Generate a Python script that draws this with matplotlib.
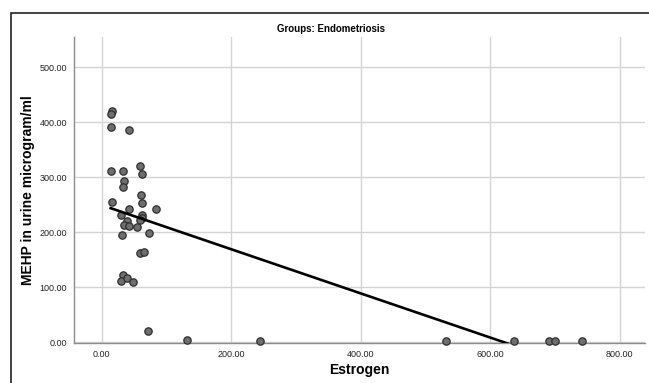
import numpy as np
import matplotlib
matplotlib.use("Agg")
import matplotlib.pyplot as plt
from matplotlib.patches import Rectangle

# Data
estrogen = [16.4, 13.9, 14.4, 42.7, 59.0, 14.4, 32.4, 62.8, 35.0, 32.4,
            16.4, 60.2, 62.8, 83.9, 42.7, 29.3, 62.8, 61.8, 38.6, 59.0,
            35.0, 42.7, 55.0, 72.6, 31.4, 59.0, 65.8, 32.4, 29.8, 38.6,
            47.9, 71.0, 131.0, 244.0, 531.0, 636.0, 691.0, 700.0, 742.0]
mehp = [421.0, 415.0, 391.5, 386.0, 321.0, 311.5, 311.5, 305.4, 294.0, 282.0,
        254.5, 267.0, 252.7, 243.0, 243.0, 231.5, 231.5, 226.6, 220.5, 222.4,
        212.7, 212.0, 209.6, 199.3, 194.5, 161.8, 163.6, 121.8, 111.5, 117.5,
        109.0, 21.0, 4.0, 2.0, 1.5, 3.0, 2.0, 2.0, 1.5]
x_ticks = [0, 200, 400, 600, 800]
y_ticks = [0, 100, 200, 300, 400, 500]
title = "Groups: Endometriosis"
x_label = "Estrogen"
y_label = "MEHP in urine microgram/ml"

plt.rcParams['font.family'] = ['Liberation Sans', 'DejaVu Sans']

W, H = 649, 383
fig = plt.figure(figsize=(W / 100, H / 100), dpi=100)
fig.patch.set_facecolor('white')

# outer frame
fig.patches.append(Rectangle((11 / W, -0.05), 1.2, (H - 13) / H + 0.05,
                             transform=fig.transFigure, fill=False,
                             edgecolor='#222222', linewidth=1.2, clip_on=False))

left, right, top, bottom = 74, 645, 37, 343
ax = fig.add_axes([left / W, 1 - bottom / H, (right - left) / W, (bottom - top) / H])
ax.set_xlim(-42.8, 839)
ax.set_ylim(-1.3, 555)

ax.set_xticks(x_ticks)
ax.set_yticks(y_ticks)
ax.set_xticklabels([f"{v:.2f}" for v in x_ticks])
ax.set_yticklabels([f"{v:.2f}" for v in y_ticks])
ax.tick_params(length=0, labelsize=6.5, colors='#222222')
ax.tick_params(axis='x', pad=5)
ax.tick_params(axis='y', pad=5)
ax.grid(True, color='#d4d4d4', linewidth=1.0)
ax.set_axisbelow(True)
for s in ['top', 'right']:
    ax.spines[s].set_visible(False)
for s in ['left', 'bottom']:
    ax.spines[s].set_color('#8c8c8c')
    ax.spines[s].set_linewidth(1.0)

x = np.array(estrogen)
y = np.array(mehp)
ax.scatter(x, y, s=28, facecolor='#6e6e6e', edgecolor='#2e2e2e',
           linewidth=0.9, zorder=3, clip_on=False)

slope, intercept = np.polyfit(x, y, 1)
xs = np.array([x.min(), x.max()])
ax.plot(xs, intercept + slope * xs, color='black', linewidth=1.9, zorder=4)

ax.set_xlabel(x_label, fontsize=10, fontweight='bold', labelpad=3)
ax.set_ylabel(y_label, fontsize=10, fontweight='bold', labelpad=3)

fig.text(331 / W, 1 - 29 / H, title, ha='center', va='center', fontsize=7,
         fontweight='bold', family=['Liberation Sans Narrow', 'Liberation Sans', 'DejaVu Sans'])

fig.savefig('out.png', dpi=100)
